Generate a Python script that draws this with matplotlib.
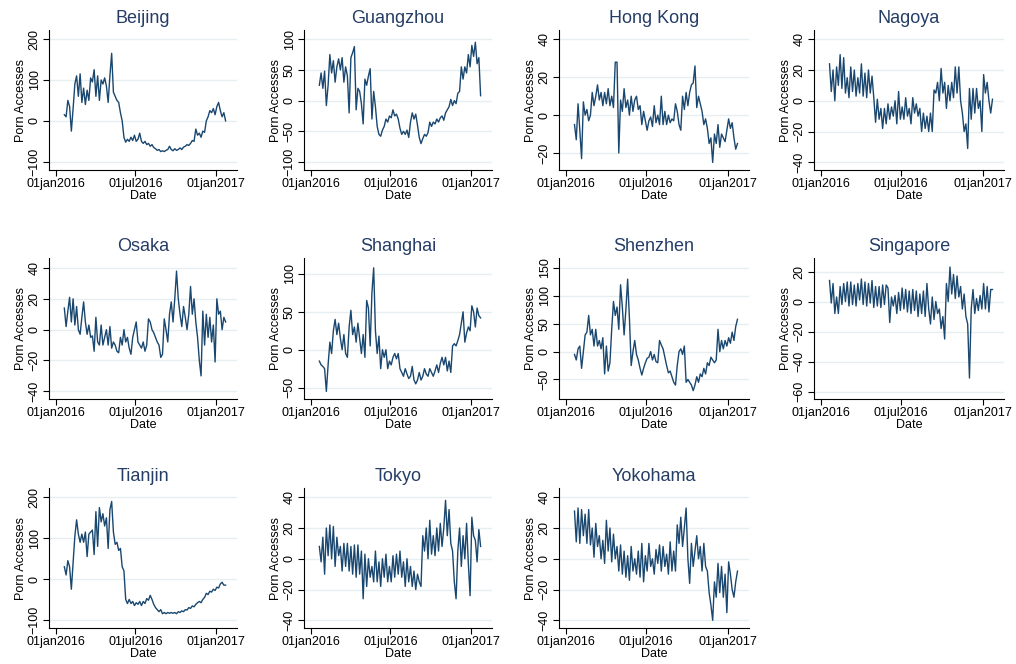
import numpy as np
import pandas as pd
import matplotlib
matplotlib.use("Agg")
import matplotlib.pyplot as plt

# sampled every 4 days, 21jan2016 .. 24jan2017
dates = pd.date_range("2016-01-21", periods=93, freq="4D")

beijing = [15, 10, 50, 35, -25, 30, 90, 110, 60, 115, 45, 80, 40, 75, 50, 105, 95, 125, 60, 110,
           50, 100, 90, 105, 85, 45, 110, 165, 70, 60, 50, 45, 20, 0, -40, -52, -45, -50, -40, -48,
           -35, -50, -45, -30, -50, -55, -50, -58, -55, -62, -58, -65, -68, -72, -70, -75, -73, -75, -72, -70,
           -62, -70, -73, -68, -72, -70, -66, -70, -64, -62, -58, -60, -55, -48, -50, -20, -35, -30, -40, -25,
           -28, 0, 10, 25, 20, 30, 15, 35, 45, 25, 10, 20, 0]
guangzhou = [25, 45, 20, 48, -8, 25, 75, 45, 65, 30, 55, 68, 50, 70, 30, 55, 40, -20, 70, 78,
             88, -15, 20, 15, -5, -38, 35, 25, 40, 52, -30, 15, -10, -42, -55, -58, -48, -42, -30, -35,
             -25, -28, -15, -25, -22, -30, -45, -55, -50, -55, -48, -60, -35, -20, -30, -22, -40, -60, -70, -62,
             -55, -58, -52, -35, -42, -35, -38, -30, -35, -28, -25, -32, -20, -15, -10, 2, -8, 0, -5, 12,
             15, 55, 35, 55, 45, 75, 55, 90, 72, 95, 60, 70, 8]
hong_kong = [-5, -13, 6, -8, -23, 7, 0, 3, -3, 0, 12, 5, 10, 16, 8, 12, 5, 12, 6, 14,
             5, 10, 4, 28, 28, -20, 8, 2, 14, 4, 8, 0, 10, 2, 8, 10, 3, 5, -5, 2,
             -3, -8, -3, -1, -6, 5, -4, 0, -5, 10, -5, 2, -5, 0, -4, -2, -3, 6, 2, -5,
             -8, 10, 3, 12, 5, 12, 16, 17, 26, 4, 10, 6, 2, -5, -2, -7, -15, -12, -25, -10,
             -15, -5, -17, -10, -12, -14, -8, -2, -7, -4, -12, -18, -15]
nagoya = [24, 6, 20, 0, 22, 10, 30, 8, 28, 5, 15, 2, 22, 6, 20, 3, 15, 5, 24, 3,
          18, 2, 20, 5, 16, 2, -14, 1, -12, -5, -18, -5, -15, -2, -12, -4, -10, 0, -15, 6,
          -12, -4, -12, 2, -10, -5, -15, 2, -8, -2, -10, -5, -20, -8, -18, -10, -20, -8, -20, 7,
          5, 12, 0, 21, 5, 12, -5, 10, 0, 12, 2, 22, 5, 22, 0, -8, -20, -15, -31, 8,
          -12, 8, -8, 8, -5, 0, -20, 17, 5, 12, 0, -8, 1]
osaka = [14, 2, 12, 21, 5, 20, 3, 15, 0, -3, 8, 18, 5, -3, 3, -5, -4, -14, 8, -8,
         -10, 3, -10, -5, 0, -10, 2, -12, -8, -10, -14, -15, -5, -10, 0, -8, -5, -12, -16, -5,
         0, 5, -8, -10, -12, -8, -14, -10, 7, 5, 0, -2, -5, -8, -10, -18, -16, 7, 0, -8,
         10, 18, 5, 20, 38, 20, 10, 2, 15, 8, 0, 10, 28, 10, 20, 5, -5, -20, -30, 12,
         -10, 10, -5, 8, -8, 3, -21, 20, 10, 12, 0, 8, 5]
shanghai = [-15, -20, -22, -25, -55, -20, 10, -5, 25, 40, 20, 35, 15, 0, 20, -5, -10, 30, 52, 20,
            30, 10, 35, 15, -5, 20, -10, 65, 55, 5, 75, 108, 25, -5, 18, -25, 0, -10, 0, -25,
            -15, -20, -10, -5, -12, -5, -25, -30, -35, -25, -32, -38, -35, -22, -40, -45, -40, -30, -40, -35,
            -25, -32, -35, -25, -30, -35, -28, -20, -30, -18, -10, -20, -10, -28, -15, -30, 5, 8, 5, 12,
            20, 35, 50, 10, 22, 30, 25, 58, 50, 30, 55, 45, 42]
shenzhen = [-5, -15, 5, 10, -30, 0, 30, 35, 65, 30, 40, 10, 40, 10, 20, 5, 25, -40, 10, -35,
            -20, 40, 90, 65, 80, 40, 120, 80, 30, 75, 130, 60, -25, 0, 20, -5, -15, -30, -42, -30,
            -20, -12, -10, 0, -15, -5, -18, -20, 20, 12, 5, -10, -25, -38, -35, -45, -55, -60, -25, 0,
            5, -5, 10, -55, -50, -55, -60, -70, -60, -45, -55, -40, -45, -30, -40, -20, -25, -10, -15, -20,
            -15, 40, 0, 20, 5, 20, 10, 25, 15, 35, 20, 45, 58]
singapore = [14, -1, 12, -8, 3, -8, 10, -2, 12, 0, 13, -3, 13, -2, 11, -3, 12, 1, 15, -2,
             13, -3, 12, -1, 14, -4, 10, -3, 10, -4, 11, -2, 11, 9, -14, 3, -3, 4, -8, 6,
             -6, 9, -5, 8, -7, 7, -8, 8, -6, 7, -10, 5, -8, 7, -10, 12, -5, -15, 3, -12,
             0, -8, -5, -18, -10, -25, 12, 0, 23, 5, 18, 2, 17, 3, 10, -5, 5, -10, -15, -51,
             -5, 8, -8, 2, -6, 4, -5, 12, -5, 10, -7, 8, 8]
tianjin = [30, 10, 45, 30, -25, 40, 105, 145, 110, 90, 110, 90, 115, 55, 110, 115, 120, 60, 165, 80,
           175, 140, 160, 130, 150, 75, 170, 190, 115, 85, 90, 70, 75, 30, 20, -50, -60, -50, -60, -55,
           -65, -58, -62, -55, -65, -55, -60, -48, -52, -40, -50, -62, -70, -75, -80, -75, -85, -82, -85, -82,
           -84, -82, -84, -82, -85, -80, -82, -78, -80, -75, -76, -70, -72, -66, -68, -62, -58, -55, -58, -50,
           -45, -35, -38, -30, -32, -25, -28, -20, -22, -12, -8, -15, -15]
tokyo = [8, -2, 14, -10, 20, 2, 22, 0, 21, -5, 14, 2, 8, -8, 10, -5, 10, -8, 8, -10,
         9, -12, 9, -10, 5, -26, 3, -18, 0, -12, -5, -15, 5, -15, -2, -18, 0, -12, 3, -15,
         -5, -15, 2, -12, 3, -10, 5, -12, -2, -18, 0, -15, -5, -18, -8, -20, -10, -15, -18, 15,
         5, 20, 0, 25, 3, 15, 2, 20, 5, 23, 8, 20, 38, 15, 32, 10, 5, -15, -26, 5,
         20, -5, 15, 0, 23, -3, -24, 27, 15, 12, -2, 19, 8]
yokohama = [31, 11, 33, 10, 32, 15, 29, 10, 32, 9, 20, 1, 23, 8, 15, 0, 12, -3, 25, 5,
            20, -2, 16, 0, 8, -8, 9, -10, 5, -12, 2, -14, 8, -8, 0, -10, 5, -12, 10, -15,
            2, -8, 10, -5, 0, -10, 6, -3, 9, -8, 8, -5, 3, -10, 11, -8, 5, -8, 22, 10,
            27, 8, 20, 33, 0, -16, 10, -5, 5, 15, 0, 8, -8, 10, -5, -8, -22, -30, -40, -15,
            -25, -3, -22, -5, -25, -10, -35, -2, -10, -20, -25, -15, -8]

cities = ["Beijing", "Guangzhou", "Hong Kong", "Nagoya", "Osaka", "Shanghai",
          "Shenzhen", "Singapore", "Tianjin", "Tokyo", "Yokohama"]
series = [beijing, guangzhou, hong_kong, nagoya, osaka, shanghai,
          shenzhen, singapore, tianjin, tokyo, yokohama]
yticks = [[-100, 0, 100, 200], [-100, -50, 0, 50, 100], [-20, 0, 20, 40], [-40, -20, 0, 20, 40],
          [-40, -20, 0, 20, 40], [-50, 0, 50, 100], [-50, 0, 50, 100, 150], [-60, -40, -20, 0, 20],
          [-100, 0, 100, 200], [-40, -20, 0, 20, 40], [-40, -20, 0, 20, 40]]
ylims = [(-120, 222), (-113, 115), (-29, 45), (-45, 46), (-45, 46.5), (-65, 121),
         (-85, 168), (-65, 29), (-120, 223), (-45, 46), (-45, 46)]

xtick_dates = pd.to_datetime(["2016-01-01", "2016-07-01", "2017-01-01"])
xtick_labels = ["01jan2016", "01jul2016", "01jan2017"]

W, H = 1016, 664
col_x = [(49, 237), (304, 492), (559, 749), (814, 1004)]
row_y = [(30, 170), (258, 399), (488, 628)]

plt.rcParams["font.family"] = ["Liberation Sans", "DejaVu Sans"]
fig = plt.figure(figsize=(W / 100, H / 100), dpi=100)
fig.patch.set_facecolor("white")

navy = "#1a476f"
for i, (name, vals) in enumerate(zip(cities, series)):
    r, c = divmod(i, 4)
    l, rr = col_x[c]
    t, b = row_y[r]
    ax = fig.add_axes([l / W, 1 - b / H, (rr - l) / W, (b - t) / H])
    ax.plot(dates, vals, color=navy, lw=1.0)
    ax.set_xlim(pd.Timestamp("2015-12-17"), pd.Timestamp("2017-02-18"))
    ax.set_ylim(*ylims[i])
    ax.set_yticks(yticks[i])
    ax.set_yticklabels([str(v).replace("-", "\u2212") for v in yticks[i]],
                       rotation=90, va="center", fontsize=9)
    ax.set_xticks(xtick_dates)
    ax.set_xticklabels(xtick_labels, fontsize=9)
    ax.grid(axis="y", color="#e6eef0", lw=1)
    ax.set_axisbelow(True)
    for s in ["top", "right"]:
        ax.spines[s].set_visible(False)
    ax.spines["left"].set_linewidth(0.8)
    ax.spines["bottom"].set_linewidth(0.8)
    ax.tick_params(length=4, width=0.8, pad=2)
    ax.set_title(name, fontsize=13, color="#253d66", pad=5)
    ax.set_ylabel("Porn Accesses", fontsize=9, labelpad=1)
    ax.set_xlabel("Date", fontsize=9, labelpad=0)

fig.savefig("out.png", dpi=100)
